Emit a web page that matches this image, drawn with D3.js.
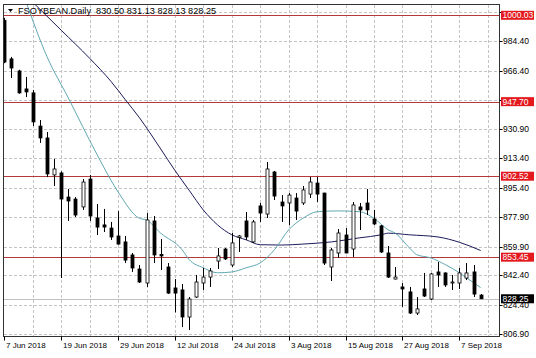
<!DOCTYPE html>
<html>
<head>
<meta charset="utf-8">
<script src="https://cdn.jsdelivr.net/npm/d3@7"></script>
<style>
  body { margin: 0; background: #fff; }
  svg text { font-family: "Liberation Sans", Arial, sans-serif; }
</style>
</head>
<body>
<div id="chart"></div>
<script>
// daily bars, FSOYBEAN
const dates = [
  "2018-06-07","2018-06-08","2018-06-11","2018-06-12","2018-06-13","2018-06-14","2018-06-15","2018-06-18",
  "2018-06-19","2018-06-20","2018-06-21","2018-06-22","2018-06-25","2018-06-26","2018-06-27","2018-06-28",
  "2018-06-29","2018-07-02","2018-07-03","2018-07-05","2018-07-06","2018-07-09","2018-07-10","2018-07-11",
  "2018-07-12","2018-07-13","2018-07-16","2018-07-17","2018-07-18","2018-07-19","2018-07-20","2018-07-23",
  "2018-07-24","2018-07-25","2018-07-26","2018-07-27","2018-07-30","2018-07-31","2018-08-01","2018-08-02",
  "2018-08-03","2018-08-06","2018-08-07","2018-08-08","2018-08-09","2018-08-10","2018-08-13","2018-08-14",
  "2018-08-15","2018-08-16","2018-08-17","2018-08-20","2018-08-21","2018-08-22","2018-08-23","2018-08-24",
  "2018-08-27","2018-08-28","2018-08-29","2018-08-30","2018-08-31","2018-09-04","2018-09-05","2018-09-06",
  "2018-09-07","2018-09-10","2018-09-11","2018-09-12"
];
const open = [
  997.0, 973.6, 966.3, 955.4, 953.0, 932.9, 925.7, 903.3,
  904.5, 889.9, 888.7, 883.9, 900.8, 877.2, 873.0, 871.1,
  866.3, 862.7, 854.8, 846.3, 837.8, 875.4, 855.1, 847.5,
  834.8, 833.6, 817.2, 829.3, 837.8, 841.4, 851.1, 858.4,
  848.7, 865.4, 875.4, 862.7, 884.5, 879.6, 905.1, 886.9,
  886.3, 889.3, 886.3, 891.7, 898.4, 892.3, 847.5, 856.0,
  866.9, 858.4, 883.9, 886.3, 876.6, 872.4, 856.0, 840.2,
  835.4, 832.4, 819.6, 834.2, 828.1, 844.5, 843.9, 837.8,
  837.8, 840.8, 844.5, 830.50
];
const high = [
  998.5, 974.8, 967.0, 962.7, 954.8, 936.6, 929.3, 913.0,
  905.5, 894.8, 889.9, 900.8, 903.3, 885.7, 882.7, 874.8,
  881.4, 866.3, 856.0, 848.7, 880.2, 878.4, 864.5, 849.9,
  840.2, 837.2, 829.3, 842.7, 846.9, 846.9, 859.0, 859.0,
  868.1, 866.9, 880.8, 876.0, 886.3, 911.1, 905.7, 891.1,
  892.3, 892.3, 896.6, 902.1, 902.1, 892.5, 859.0, 870.5,
  871.1, 886.9, 886.3, 894.8, 882.1, 873.0, 860.2, 847.5,
  837.8, 835.4, 829.3, 843.9, 843.9, 850.5, 844.2, 842.7,
  846.9, 849.9, 848.7, 831.13
];
const low = [
  971.0, 962.0, 952.5, 950.5, 932.9, 922.7, 902.0, 896.6,
  840.8, 875.4, 877.8, 882.1, 875.4, 866.9, 868.7, 863.9,
  861.0, 849.9, 844.5, 837.8, 835.4, 849.9, 845.7, 831.2,
  820.0, 811.1, 809.3, 828.7, 833.6, 835.4, 846.3, 851.7,
  847.5, 856.6, 863.9, 862.1, 874.8, 877.2, 888.1, 874.8,
  872.9, 876.0, 885.1, 889.3, 886.9, 848.7, 839.0, 853.0,
  855.8, 853.6, 869.9, 879.0, 872.9, 856.0, 840.8, 840.0,
  823.3, 819.0, 818.4, 829.3, 827.5, 835.4, 835.4, 833.6,
  834.2, 839.6, 829.3, 828.13
];
const close = [
  971.7, 968.1, 953.0, 953.6, 935.4, 925.7, 903.9, 906.9,
  888.7, 887.5, 879.0, 899.0, 878.4, 871.7, 871.7, 865.7,
  861.4, 851.7, 846.9, 838.4, 876.0, 854.8, 854.2, 831.7,
  831.7, 817.2, 828.1, 838.4, 841.4, 845.1, 854.2, 852.4,
  862.1, 866.3, 865.7, 874.8, 880.2, 906.9, 890.5, 884.5,
  891.1, 881.4, 894.2, 899.0, 891.7, 849.9, 857.8, 868.1,
  856.0, 885.1, 882.1, 882.1, 873.6, 856.6, 841.4, 841.4,
  834.2, 819.6, 822.1, 829.9, 843.3, 842.7, 836.6, 838.4,
  843.9, 843.9, 831.1, 828.25
];

// moving averages (bar index, value)
const fastIdx = [3, 6, 9, 13, 16, 19, 20, 22, 25, 26, 28, 30, 32, 34, 36, 38, 40, 42, 44, 47, 50, 52, 54, 55, 57, 58, 60, 62, 64, 65, 67];
const fastVal = [1009, 975, 950, 916, 893, 877, 876, 868, 858, 852, 847, 844, 844.5, 847, 850, 858, 870, 877, 881, 881.5, 881, 877, 870, 868, 859, 855, 853, 849, 844, 841, 835];
const slowIdx = [4, 8, 12, 15, 17, 19, 22, 24, 26, 28, 30, 32, 34, 36, 39, 42, 46, 50, 53, 54, 57, 61, 64, 67];
const slowVal = [1008, 991, 974, 960, 949, 938, 919, 906, 894, 882, 873, 867, 864, 861, 860.8, 861.4, 862.7, 865.2, 867, 868, 867, 865.7, 862.5, 857.5];

const yTicks = [1001.9, 984.4, 966.4, 948.9, 930.9, 913.4, 895.4, 877.9, 859.9, 842.4, 824.4, 806.9];
const levels = [1000.03, 947.70, 902.52, 853.45];
const lastPrice = 828.25;
const title = "FSOYBEAN.Daily  830.50 831.13 828.13 828.25";

const w = 536, h = 358;
const pLeft = 3.5, pRight = 499.5, pTop = 4.5, pBottom = 336.5;

const svg = d3.select("#chart").append("svg")
  .attr("width", w).attr("height", h);

const x = d3.scalePoint().domain(dates).range([4.3, 4.3 + 67 * 7.11]);
const step = x.step();
const xi = i => x.range()[0] + i * step;
const y = d3.scaleLinear().domain([806.9, 1000.03]).range([334, 15.3]);

svg.append("clipPath").attr("id", "plot")
  .append("rect").attr("x", pLeft).attr("y", pTop)
  .attr("width", pRight - pLeft).attr("height", pBottom - pTop);

// grid
const grid = svg.append("g").attr("stroke", "#c4c4c4").attr("stroke-dasharray", "3,2").attr("shape-rendering", "crispEdges");
grid.selectAll(".hg").data(yTicks.filter(v => y(v) > pTop + 1)).enter().append("line")
  .attr("x1", pLeft).attr("x2", pRight)
  .attr("y1", d => Math.round(y(d)) + 0.5).attr("y2", d => Math.round(y(d)) + 0.5);
grid.selectAll(".vg").data(d3.range(4, 70, 4).filter(i => xi(i) < pRight - 1)).enter().append("line")
  .attr("y1", pTop).attr("y2", pBottom)
  .attr("x1", d => Math.round(xi(d)) + 0.5).attr("x2", d => Math.round(xi(d)) + 0.5);

const plot = svg.append("g").attr("clip-path", "url(#plot)");

// level lines
plot.selectAll(".lvl").data(levels).enter().append("line")
  .attr("x1", pLeft).attr("x2", pRight)
  .attr("y1", d => Math.round(y(d)) + 0.5).attr("y2", d => Math.round(y(d)) + 0.5)
  .attr("stroke", "#b23a3a").attr("shape-rendering", "crispEdges");

// bid line
plot.append("line")
  .attr("x1", pLeft).attr("x2", pRight)
  .attr("y1", Math.round(y(lastPrice)) + 0.5).attr("y2", Math.round(y(lastPrice)) + 0.5)
  .attr("stroke", "#c0c0c0").attr("shape-rendering", "crispEdges");

// moving averages
const maLine = d3.line().x(d => xi(d[0])).y(d => y(d[1])).curve(d3.curveMonotoneX);
plot.append("path").datum(d3.zip(slowIdx, slowVal))
  .attr("d", maLine).attr("fill", "none").attr("stroke", "#1c1c5a").attr("stroke-width", 1);
plot.append("path").datum(d3.zip(fastIdx, fastVal))
  .attr("d", maLine).attr("fill", "none").attr("stroke", "#5fa8b0").attr("stroke-width", 1);

// candles
const bars = dates.map((d, i) => ({ d, o: open[i], h: high[i], l: low[i], c: close[i] }));
const cg = plot.selectAll(".bar").data(bars).enter().append("g");
cg.append("line")
  .attr("x1", d => Math.round(x(d.d)) + 0.5).attr("x2", d => Math.round(x(d.d)) + 0.5)
  .attr("y1", d => y(d.h)).attr("y2", d => y(d.l))
  .attr("stroke", "#000");
cg.append("rect")
  .attr("x", d => Math.round(x(d.d)) - 1)
  .attr("width", 3)
  .attr("y", d => y(Math.max(d.o, d.c)))
  .attr("height", d => Math.max(1, Math.abs(y(d.o) - y(d.c))))
  .attr("fill", d => d.c >= d.o ? "#fff" : "#000")
  .attr("stroke", "#000").attr("stroke-width", 0.8);

// frame
svg.append("rect").attr("x", pLeft).attr("y", pTop)
  .attr("width", pRight - pLeft).attr("height", pBottom - pTop)
  .attr("fill", "none").attr("stroke", "#333").attr("shape-rendering", "crispEdges");

// right axis
const ya = svg.append("g");
const shownTicks = yTicks.filter(v => y(v) > pTop + 1);
ya.selectAll(".tk").data(shownTicks).enter().append("line")
  .attr("x1", pRight).attr("x2", pRight + 3)
  .attr("y1", d => Math.round(y(d)) + 0.5).attr("y2", d => Math.round(y(d)) + 0.5)
  .attr("stroke", "#000");
// labels hidden under the level tags are left out
const labelTicks = shownTicks.filter(v => levels.every(l => Math.abs(y(l) - y(v)) > 8));
ya.selectAll(".tl").data(labelTicks).enter().append("text")
  .attr("x", pRight + 3.5).attr("y", d => y(d) + 3)
  .attr("font-size", "8.5px").attr("fill", "#000")
  .text(d => d.toFixed(2));

const tagData = levels.map(v => ({ v, bg: "#e3191e" })).concat([{ v: lastPrice, bg: "#000" }]);
const tags = ya.selectAll(".tag").data(tagData).enter().append("g");
tags.append("rect")
  .attr("x", pRight + 1.5).attr("y", d => y(d.v) - 4.5)
  .attr("width", 33).attr("height", 9)
  .attr("fill", d => d.bg);
tags.append("text")
  .attr("x", pRight + 3).attr("y", d => y(d.v) + 3)
  .attr("font-size", "8.5px").attr("fill", "#fff")
  .text(d => d.v.toFixed(2));

// bottom axis
const fmt = d3.timeFormat("%-d %b %Y");
const parse = d3.timeParse("%Y-%m-%d");
const xTicks = dates.filter((d, i) => i % 8 === 0);
const xa = svg.append("g");
xa.selectAll(".tk").data(xTicks).enter().append("line")
  .attr("x1", d => Math.round(x(d)) + 0.5).attr("x2", d => Math.round(x(d)) + 0.5)
  .attr("y1", pBottom).attr("y2", pBottom + 4)
  .attr("stroke", "#000");
xa.selectAll(".tl").data(xTicks).enter().append("text")
  .attr("x", d => Math.round(x(d)) + 2).attr("y", 348)
  .attr("font-size", "8px").attr("fill", "#000")
  .text(d => fmt(parse(d)));

// title
svg.append("path").attr("d", "M8,9 L13,9 L10.5,12 Z").attr("fill", "#000");
svg.append("text").attr("x", 18).attr("y", 13.5)
  .attr("font-size", "9.2px").attr("fill", "#000")
  .style("white-space", "pre")
  .text(title);
</script>
</body>
</html>
